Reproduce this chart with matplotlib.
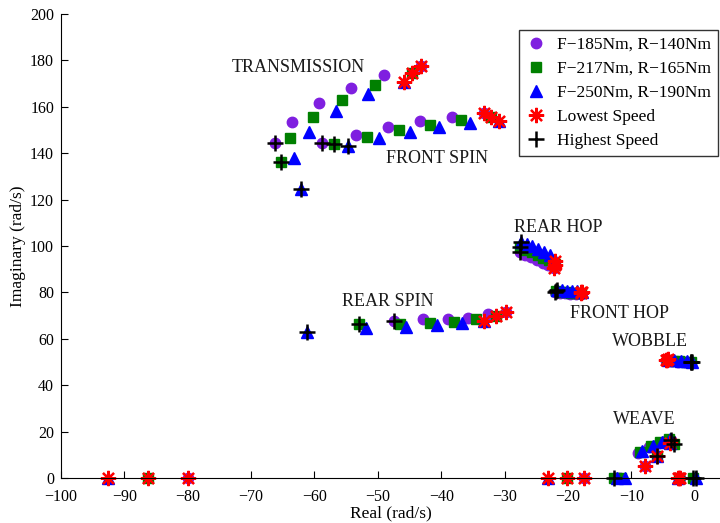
import matplotlib
matplotlib.use("Agg")
import matplotlib.pyplot as plt

# ---- data ----
# series order per list: transmission, front spin, rear spin, rear hop,
# front hop, wobble, weave, real-axis poles
purple_x = [-66.2, -63.5, -59.3, -54.2, -49.1, -43.2,
            -58.8, -53.5, -48.4, -43.4, -38.3, -33.3,
            -47.5, -42.8, -38.9, -35.7, -32.6, -29.8,
            -27.6, -26.7, -25.8, -24.9, -24.0, -23.1, -22.2,
            -22.0, -21.2, -20.4, -19.6, -18.8, -18.0,
            -4.6, -3.6, -2.6, -1.6, -0.6,
            -7.9, -8.9, -7.2, -5.7, -4.4, -3.8,
            -80.0, -17.4, -12.6, -11.8, -2.3, -0.3]
purple_y = [144.5, 153.5, 161.5, 168.0, 173.5, 177.5,
            144.5, 148.0, 151.2, 153.8, 155.5, 157.3,
            67.8, 68.4, 68.4, 69.1, 70.5, 71.7,
            97.2, 96.2, 95.1, 94.0, 92.8, 91.6, 90.5,
            80.0, 79.8, 79.6, 79.4, 79.3, 79.2,
            50.6, 50.4, 50.2, 50.0, 49.9,
            5.0, 10.8, 13.4, 15.0, 16.3, 16.4,
            0, 0, 0, 0, 0, 0]

green_x = [-65.3, -63.8, -60.3, -55.6, -50.4, -44.6,
           -56.9, -51.7, -46.7, -41.8, -36.9, -32.1,
           -53.0, -46.5, -41.7, -37.9, -34.5, -31.4,
           -27.5, -26.6, -25.7, -24.8, -23.9, -23.0, -22.1,
           -21.9, -21.1, -20.3, -19.5, -18.7, -17.9,
           -4.4, -3.4, -2.4, -1.4, -0.5,
           -6.0, -8.6, -6.9, -5.4, -4.1, -3.3,
           -86.3, -20.2, -12.7, -11.6, -2.5, -0.2]
green_y = [136.0, 146.5, 155.5, 163.0, 169.5, 174.7,
           144.0, 147.0, 150.0, 152.3, 154.3, 155.7,
           66.4, 66.2, 66.7, 67.4, 68.4, 69.8,
           99.5, 98.4, 97.3, 96.1, 95.0, 93.8, 92.3,
           80.5, 80.3, 80.1, 79.9, 79.8, 79.6,
           50.8, 50.6, 50.4, 50.2, 50.0,
           9.3, 11.3, 13.8, 15.4, 16.6, 14.5,
           0, 0, 0, 0, 0, 0]

blue_x = [-62.2, -63.2, -60.8, -56.6, -51.6, -45.9,
          -54.7, -49.8, -45.0, -40.3, -35.5, -30.9,
          -61.2, -51.9, -45.5, -40.7, -36.7, -33.2,
          -27.4, -26.5, -25.6, -24.7, -23.8, -22.9, -22.0,
          -21.8, -21.0, -20.2, -19.4, -18.6, -17.8,
          -4.2, -3.2, -2.2, -1.2, -0.4,
          -3.9, -8.3, -6.6, -5.1, -3.9, -6.0,
          -92.6, -23.2, -12.3, -11.0, -2.7, 0.2]
blue_y = [124.5, 138.0, 149.0, 158.0, 165.4, 170.5,
          143.0, 146.5, 149.3, 151.2, 153.0, 154.0,
          63.0, 64.5, 65.0, 66.0, 66.7, 67.8,
          101.8, 100.9, 99.9, 98.8, 97.6, 96.2, 94.0,
          81.2, 81.0, 80.8, 80.6, 80.4, 80.2,
          51.0, 50.8, 50.6, 50.4, 50.2,
          15.0, 11.6, 14.0, 15.7, 17.0, 9.4,
          0, 0, 0, 0, 0, 0]

lowest_x = [-43.2, -44.6, -45.9, -33.3, -32.1, -30.9, -29.8, -31.4, -33.2,
            -22.0, -22.1, -22.2, -18.0, -17.9, -17.8, -4.6, -4.4, -4.2,
            -7.9, -6.0, -3.9, -92.6, -86.3, -80.0, -23.2, -20.2, -17.4,
            -2.7, -2.5, -2.3]
lowest_y = [177.5, 174.7, 170.5, 157.3, 155.7, 154.0, 71.7, 69.8, 67.8,
            93.5, 92.0, 90.5, 79.6, 80.0, 80.3, 50.8, 51.0, 51.1,
            5.0, 9.3, 15.0, 0, 0, 0, 0, 0, 0,
            0, 0, 0]

highest_x = [-66.2, -65.3, -62.2, -58.8, -56.9, -54.7, -47.5, -53.0, -61.2,
             -27.6, -27.5, -27.4, -22.0, -21.9, -21.8, -0.6, -0.5, -0.4,
             -3.8, -3.3, -6.0, -12.7, -0.3, 0.2]
highest_y = [144.5, 136.0, 124.5, 144.5, 144.0, 143.0, 67.8, 66.4, 63.0,
             97.2, 99.5, 101.8, 80.0, 80.5, 81.2, 49.9, 50.0, 50.2,
             16.4, 14.5, 9.4, 0, 0, 0]

series_labels = ["F\u2212185Nm, R\u2212140Nm", "F\u2212217Nm, R\u2212165Nm",
                 "F\u2212250Nm, R\u2212190Nm", "Lowest Speed", "Highest Speed"]

mode_names = ["TRANSMISSION", "FRONT SPIN", "REAR SPIN", "REAR HOP",
              "FRONT HOP", "WOBBLE", "WEAVE"]
mode_x = [-62.5, -40.7, -48.4, -21.6, -11.8, -7.1, -8.0]
mode_y = [177.0, 137.9, 76.0, 107.8, 71.1, 58.8, 25.2]

plt.rcParams.update({
    "font.family": ["Liberation Serif", "DejaVu Serif"],
    "font.size": 12,
})

fig = plt.figure(figsize=(7.2, 5.23), dpi=100)
ax = fig.add_axes([61 / 720, 45 / 523, 659 / 720, 464 / 523])

common = dict(linestyle="none", clip_on=False)
ax.plot(purple_x, purple_y, marker="o", ms=7.5, color="#7F1FE0",
        mec="#7F1FE0", label=series_labels[0], **common)
ax.plot(green_x, green_y, marker="s", ms=6.5, color="#008000",
        mec="#008000", label=series_labels[1], **common)
ax.plot(blue_x, blue_y, marker="^", ms=8, color="#0000FF",
        mec="#0000FF", label=series_labels[2], **common)
ax.plot(lowest_x, lowest_y, marker=(8, 2, 0), ms=11, mew=1.6,
        color="#FF0000", label=series_labels[3], **common)
ax.plot(highest_x, highest_y, marker="+", ms=12, mew=1.8,
        color="black", label=series_labels[4], **common)

for name, tx, ty in zip(mode_names, mode_x, mode_y):
    ax.text(tx, ty, name, ha="center", va="center", fontsize=13,
            color="#1A1A1A")

ax.set_xlim(-100, 4)
ax.set_ylim(0, 200)
ax.set_xticks(range(-100, 1, 10))
ax.set_yticks(range(0, 201, 20))
ax.tick_params(direction="in", length=5, labelsize=11.5)
ax.tick_params(axis="x", pad=8)
ax.tick_params(axis="y", pad=5)
ax.spines["top"].set_visible(False)
ax.spines["right"].set_visible(False)
ax.set_xlabel("Real (rad/s)", fontsize=12.5, labelpad=0)
ax.set_ylabel("Imaginary (rad/s)", fontsize=12.5, labelpad=3)

leg = ax.legend(loc="upper right", bbox_to_anchor=(0.997, 0.966),
                fontsize=12.5, frameon=True, fancybox=False,
                edgecolor="black", borderpad=0.4, labelspacing=0.45,
                handlelength=1.2, handletextpad=0.6, borderaxespad=0)
leg.get_frame().set_linewidth(1.0)

fig.savefig("out.png", dpi=100, facecolor="white")
